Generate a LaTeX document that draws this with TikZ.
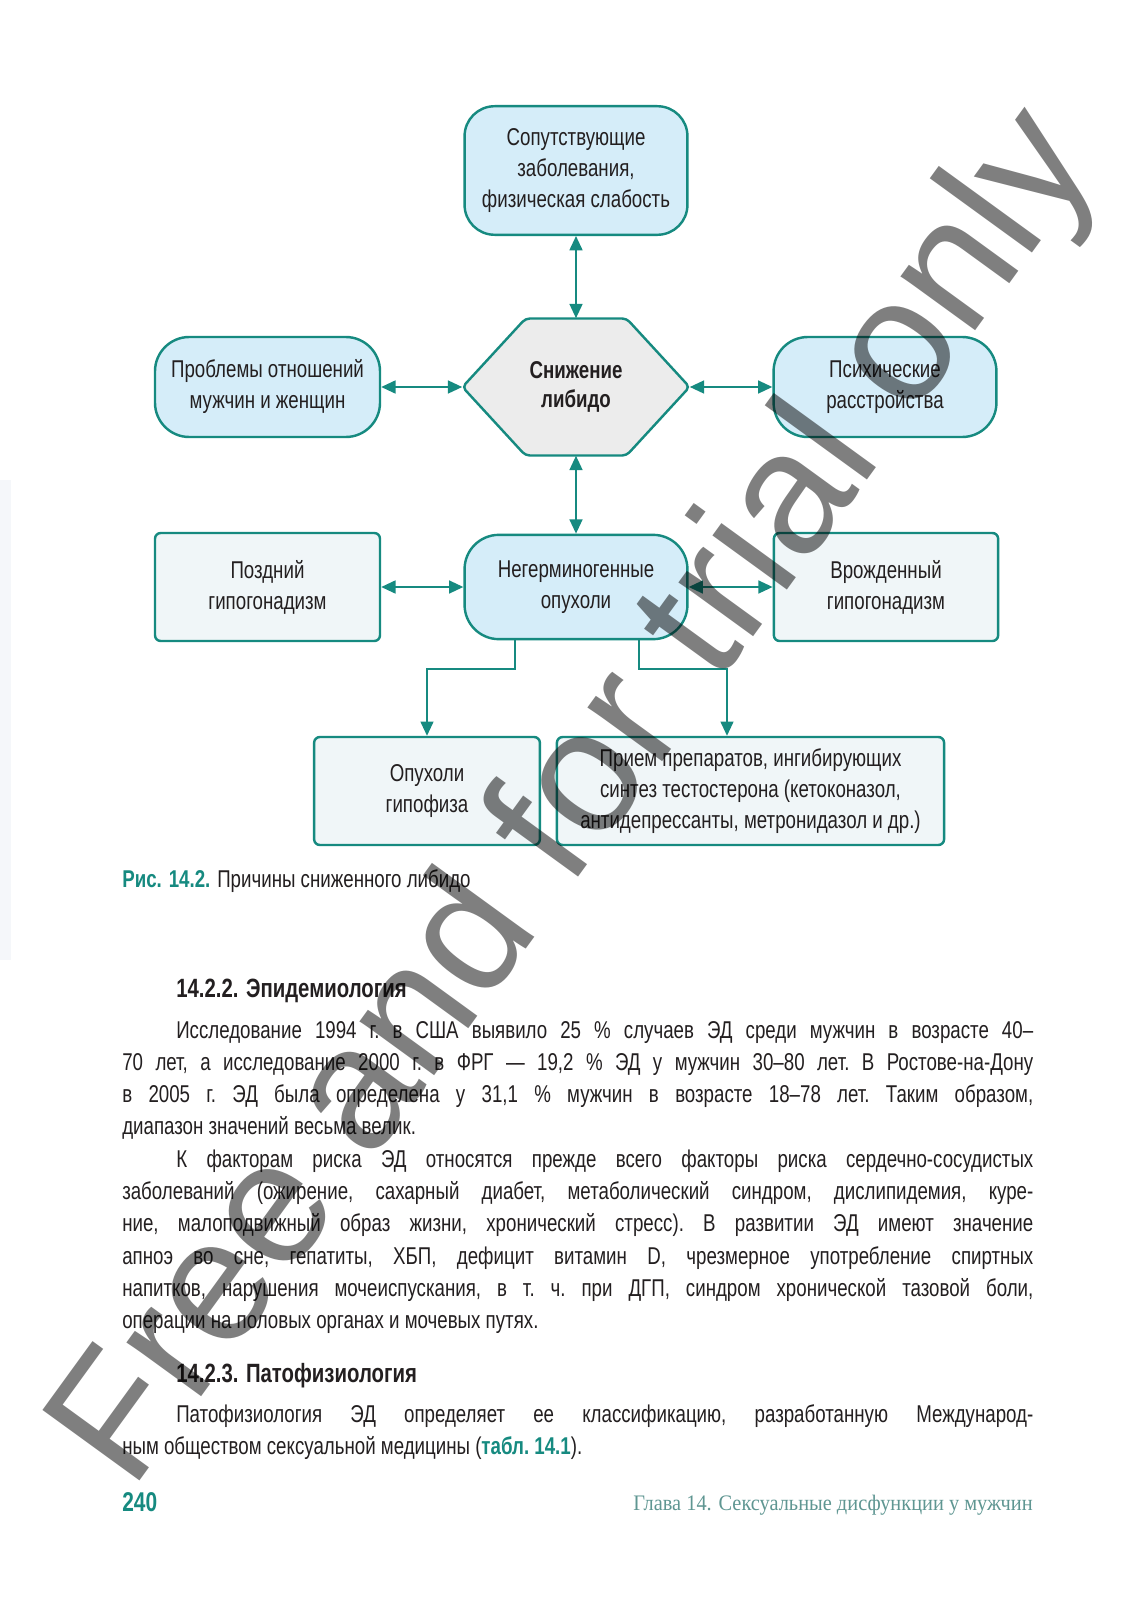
\documentclass[tikz,border=0pt]{standalone}
\usepackage{fontspec}
\setmainfont{Liberation Sans}[FakeStretch=0.77]
\newfontfamily\wmfont{Liberation Sans}
\newfontfamily\chapfont{Liberation Serif}[FakeStretch=0.92]
\usetikzlibrary{arrows.meta,calc}
\definecolor{teal1}{RGB}{22,138,128}
\definecolor{blue1}{RGB}{213,237,249}
\definecolor{grey1}{RGB}{236,236,236}
\definecolor{pale1}{RGB}{240,246,248}
\definecolor{edge1}{RGB}{245,247,250}
\definecolor{ink}{RGB}{35,31,32}
\definecolor{chap}{RGB}{95,150,146}

\begin{document}
\begin{tikzpicture}[x=0.7pt,y=-0.7pt,>={Triangle[length=10pt,width=9pt]},
    every node/.style={text=ink,font=\fontsize{17}{21.7}\selectfont},
    link/.style={teal1,line width=1.4pt},
    roundbox/.style={draw=teal1,line width=1.7pt,fill=blue1,align=center,inner sep=0pt,rounded corners=24pt},
    flatbox/.style={draw=teal1,line width=1.7pt,fill=pale1,align=center,inner sep=0pt,rounded corners=4pt,minimum height=75.6pt},
    hexline/.style={draw=teal1,line width=1.7pt,fill=grey1,rounded corners=3pt},
    bodytext/.style={anchor=base west,inner sep=0pt,text width=637.7pt,align=justify,font=\frenchspacing\fontsize{17}{22.6}\selectfont}]

    \fill[white] (0,0) rectangle (1132,1600);
    \fill[edge1] (0,480) rectangle (11,960);
    \useasboundingbox (0,0) rectangle (1132,1600);

    \node[roundbox,rounded corners=21pt,minimum width=156pt,minimum height=90pt] (comorb) at (576,170.5) {Сопутствующие\\заболевания,\\физическая слабость};
    \node[roundbox,minimum width=157.5pt,minimum height=70pt] (relat) at (267.5,387) {Проблемы отношений\\мужчин и женщин};
    \coordinate (hexc) at (576,387);
    \filldraw[hexline] ($(hexc)+(-113.5,0)$) -- ++(63,-68.5) -- ++(101,0) -- ++(63,68.5) -- ++(-63,68.5) -- ++(-101,0) -- cycle;
    \node[minimum width=158.9pt,minimum height=95.9pt,inner sep=0pt,align=center,font=\bfseries\fontsize{17}{20}\selectfont] (libido) at (hexc) {Снижение\\либидо};
    \node[roundbox,minimum width=156pt,minimum height=70pt] (psych) at (885,387) {Психические\\расстройства};

    \node[flatbox,minimum width=157.5pt] (late) at (267.5,587) {Поздний\\гипогонадизм};
    \node[roundbox,minimum width=156pt,minimum height=73pt] (tumor) at (576,587) {Негерминогенные\\опухоли};
    \node[flatbox,minimum width=157pt] (congen) at (886,587) {Врожденный\\гипогонадизм};
    \node[flatbox,minimum width=158pt] (pituit) at (427,791) {Опухоли\\гипофиза};
    \node[flatbox,minimum width=271pt] (drugs) at (750.5,791) {Прием препаратов, ингибирующих\\синтез тестостерона (кетоконазол,\\антидепрессанты, метронидазол и др.)};

    \draw[<->,link] (comorb) -- (libido);
    \draw[<->,link] (relat) -- (libido);
    \draw[<->,link] (libido) -- (psych);
    \draw[<->,link] (libido) -- (tumor);
    \draw[<->,link] (late) -- (tumor);
    \draw[<->,link] (tumor) -- (congen);
    \draw[->,link] (tumor.south -| 515,0) |- (427,669) -- (pituit);
    \draw[->,link] (tumor.south -| 639,0) |- (727,669) -- (drugs.north -| 727,0);

    \node[anchor=base west,inner sep=0pt] (caption) at (122,887) {\textcolor{teal1}{\bfseries Рис. 14.2.} Причины сниженного либидо};

    \node[anchor=base west,inner sep=0pt,font=\bfseries\fontsize{18.5}{22}\selectfont] (head1) at (176,997) {14.2.2. Эпидемиология};
    \node[bodytext] (epid) at (122,1038) {\tolerance=9999 \hyphenpenalty=10000 \exhyphenpenalty=10000
        \hspace*{37.8pt}Исследование 1994 г. в США выявило 25 \% случаев ЭД среди мужчин в возрасте 40–\linebreak
        70 лет, а исследование 2000 г. в ФРГ — 19,2 \% ЭД у мужчин 30–80 лет. В Ростове-на-Дону\linebreak
        в 2005 г. ЭД была определена у 31,1 \% мужчин в возрасте 18–78 лет. Таким образом,\linebreak
        диапазон значений весьма велик.\par
        \hspace*{37.8pt}К факторам риска ЭД относятся прежде всего факторы риска сердечно-сосудистых\linebreak
        заболеваний (ожирение, сахарный диабет, метаболический синдром, дислипидемия, куре-\linebreak
        ние, малоподвижный образ жизни, хронический стресс). В развитии ЭД имеют значение\linebreak
        апноэ во сне, гепатиты, ХБП, дефицит витамин D, чрезмерное употребление спиртных\linebreak
        напитков, нарушения мочеиспускания, в т. ч. при ДГП, синдром хронической тазовой боли,\linebreak
        операции на половых органах и мочевых путях.};

    \node[anchor=base west,inner sep=0pt,font=\bfseries\fontsize{18.5}{22}\selectfont] (head2) at (176,1382) {14.2.3. Патофизиология};
    \node[bodytext] (patho) at (122,1422) {\tolerance=9999 \hyphenpenalty=10000 \exhyphenpenalty=10000
        \hspace*{37.8pt}Патофизиология ЭД определяет ее классификацию, разработанную Международ-\linebreak
        ным обществом сексуальной медицины (\textcolor{teal1}{\bfseries табл. 14.1}).};

    \node[anchor=base west,inner sep=0pt,text=teal1,font=\bfseries\fontsize{19}{22}\selectfont] (page) at (122,1511) {240};
    \node[anchor=base east,inner sep=0pt,text=chap,font=\chapfont\fontsize{15.5}{20}\selectfont] (chapter) at (1033,1510) {Глава 14. Сексуальные дисфункции у мужчин};

    \node[rotate=54,inner sep=0pt,text=black,text opacity=0.5,font=\wmfont\fontsize{122}{122}\selectfont] (mark) at (579,800) {Free and for trial only};

\end{tikzpicture}
\end{document}
